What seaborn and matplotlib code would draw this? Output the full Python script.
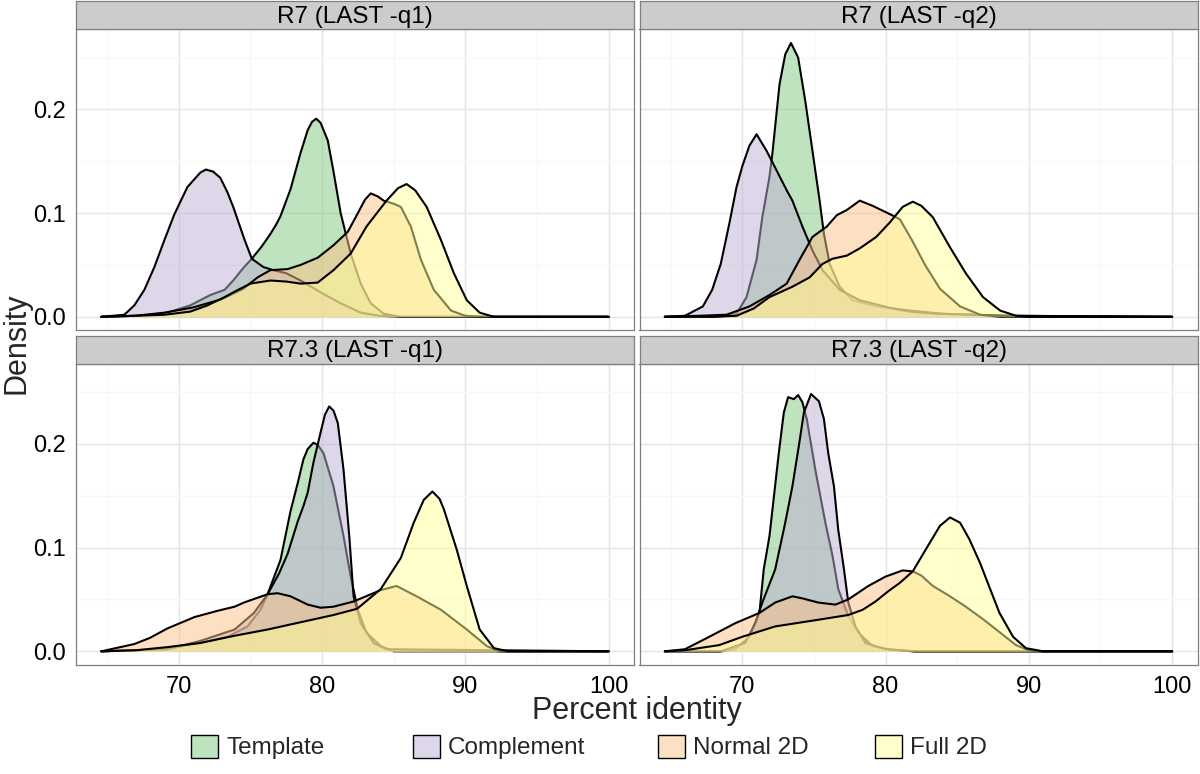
import matplotlib
matplotlib.use("Agg")
import matplotlib.pyplot as plt
from matplotlib.colors import to_rgba
from matplotlib.patches import Patch
import pandas as pd
import seaborn as sns

panels = ["R7 (LAST -q1)", "R7 (LAST -q2)", "R7.3 (LAST -q1)", "R7.3 (LAST -q2)"]
series = ["Template", "Complement", "Normal 2D", "Full 2D"]
colors = ["#7FC97F", "#BEAED4", "#FDC086", "#FFFF99"]
x_ticks = [70, 80, 90, 100]
y_ticks = [0.0, 0.1, 0.2]
y_tick_labels = ["0.0", "0.1", "0.2"]

# density curves (percent identity, density)
r7_q1_template_x = [64.6, 67.0, 68.1, 69.2, 70.8, 72.2, 73.2, 73.8, 74.5, 75.1, 75.8, 76.4, 76.8, 77.1, 77.8,
                    78.5, 79.0, 79.3, 79.6, 79.9, 80.4, 80.8, 81.3, 82.0, 82.7, 83.4, 84.3, 85.5, 100.0]
r7_q1_template_y = [0.0, 0.001, 0.002, 0.004, 0.011, 0.021, 0.026, 0.035, 0.047, 0.056, 0.068, 0.080, 0.089, 0.097,
                    0.123, 0.158, 0.180, 0.188, 0.191, 0.187, 0.170, 0.140, 0.100, 0.061, 0.032, 0.013, 0.003, 0.0, 0.0]
r7_q1_complement_x = [64.6, 66.2, 66.9, 67.6, 68.3, 69.0, 69.7, 70.6, 71.5, 71.9, 72.4, 72.9, 73.4, 73.8, 74.6,
                      75.1, 75.9, 76.6, 77.5, 78.5, 80.1, 81.3, 82.7, 84.0, 85.5, 100.0]
r7_q1_complement_y = [0.0, 0.002, 0.011, 0.026, 0.048, 0.074, 0.099, 0.125, 0.139, 0.142, 0.140, 0.134, 0.120, 0.106,
                      0.074, 0.056, 0.048, 0.045, 0.042, 0.035, 0.022, 0.013, 0.004, 0.001, 0.0, 0.0]
r7_q1_normal_x = [64.6, 67.0, 69.0, 71.0, 73.0, 74.5, 75.5, 76.4, 77.6, 78.5, 79.7, 80.8, 81.8, 82.5, 83.0, 83.4,
                  83.9, 84.3, 85.0, 85.5, 86.2, 86.9, 87.8, 89.0, 90.0, 91.0, 100.0]
r7_q1_normal_y = [0.0, 0.001, 0.004, 0.009, 0.017, 0.027, 0.038, 0.045, 0.046, 0.050, 0.057, 0.069, 0.082, 0.100,
                  0.113, 0.119, 0.116, 0.112, 0.109, 0.106, 0.087, 0.055, 0.026, 0.006, 0.001, 0.0, 0.0]
r7_q1_full_x = [64.6, 67.0, 69.0, 70.8, 72.0, 73.2, 74.0, 75.0, 76.4, 77.5, 78.5, 79.7, 80.8, 82.0, 83.1, 84.5,
                85.3, 85.9, 86.5, 87.3, 88.3, 89.2, 90.1, 91.0, 92.0, 100.0]
r7_q1_full_y = [0.0, 0.001, 0.002, 0.005, 0.011, 0.019, 0.025, 0.032, 0.035, 0.034, 0.032, 0.033, 0.045, 0.061,
                0.087, 0.112, 0.124, 0.128, 0.122, 0.106, 0.074, 0.042, 0.016, 0.004, 0.0, 0.0]

r7_q2_template_x = [64.6, 68.0, 69.0, 69.6, 70.3, 71.0, 71.4, 71.9, 72.1, 72.6, 73.0, 73.4, 73.9, 74.4, 74.9,
                    75.4, 75.7, 76.1, 76.8, 77.7, 79.4, 81.7, 84.0, 88.0, 100.0]
r7_q2_template_y = [0.0, 0.0, 0.001, 0.003, 0.019, 0.055, 0.096, 0.135, 0.157, 0.224, 0.253, 0.264, 0.250, 0.208,
                    0.160, 0.112, 0.080, 0.051, 0.029, 0.016, 0.010, 0.006, 0.003, 0.001, 0.0]
r7_q2_complement_x = [64.6, 66.0, 67.25, 67.9, 68.5, 69.1, 69.6, 70.0, 70.5, 71.0, 71.7, 72.4, 73.1, 73.5, 74.2,
                      74.9, 75.6, 76.8, 78.2, 80.5, 81.7, 83.5, 86.0, 89.0, 100.0]
r7_q2_complement_y = [0.0, 0.001, 0.010, 0.026, 0.051, 0.090, 0.125, 0.145, 0.165, 0.176, 0.160, 0.141, 0.122, 0.112,
                      0.087, 0.064, 0.045, 0.026, 0.016, 0.008, 0.005, 0.003, 0.002, 0.001, 0.0]
r7_q2_normal_x = [64.6, 67.0, 68.9, 70.5, 71.9, 73.1, 74.0, 74.9, 75.9, 76.6, 77.3, 78.2, 79.1, 80.3, 81.0, 81.8,
                  82.8, 83.8, 85.2, 86.6, 88.0, 100.0]
r7_q2_normal_y = [0.0, 0.001, 0.002, 0.010, 0.021, 0.032, 0.055, 0.077, 0.087, 0.098, 0.103, 0.112, 0.107, 0.099,
                  0.094, 0.075, 0.049, 0.027, 0.010, 0.002, 0.0, 0.0]
r7_q2_full_x = [64.6, 68.0, 69.6, 70.8, 71.9, 73.5, 74.7, 75.6, 76.3, 77.3, 78.2, 79.35, 80.3, 81.2, 81.9, 82.5,
                83.3, 84.5, 85.6, 86.8, 88.0, 89.1, 90.0, 100.0]
r7_q2_full_y = [0.0, 0.0, 0.001, 0.008, 0.019, 0.029, 0.038, 0.051, 0.056, 0.059, 0.066, 0.077, 0.091, 0.106,
                0.111, 0.107, 0.096, 0.067, 0.042, 0.019, 0.006, 0.001, 0.0, 0.0]

r73_q1_template_x = [64.6, 69.2, 71.5, 73.4, 74.8, 75.7, 76.2, 77.1, 77.8, 78.3, 78.7, 79.0, 79.4, 79.7, 80.1,
                     80.8, 81.5, 82.0, 82.5, 83.1, 84.1, 85.0, 100.0]
r73_q1_template_y = [0.0, 0.002, 0.008, 0.014, 0.024, 0.040, 0.055, 0.088, 0.135, 0.162, 0.185, 0.195, 0.201, 0.199,
                     0.191, 0.159, 0.111, 0.072, 0.040, 0.018, 0.005, 0.0, 0.0]
r73_q1_complement_x = [64.6, 69.2, 71.5, 73.9, 75.25, 76.2, 77.0, 77.6, 78.3, 78.7, 79.0, 79.4, 79.9, 80.2, 80.5,
                       80.8, 81.1, 81.5, 81.9, 82.2, 82.7, 83.6, 84.5, 100.0]
r73_q1_complement_y = [0.0, 0.002, 0.010, 0.021, 0.037, 0.055, 0.075, 0.094, 0.125, 0.140, 0.153, 0.182, 0.211,
                       0.228, 0.236, 0.232, 0.220, 0.175, 0.111, 0.053, 0.027, 0.008, 0.002, 0.0]
r73_q1_normal_x = [64.6, 66.9, 68.0, 69.2, 71.1, 72.7, 73.9, 74.55, 76.2, 76.9, 77.8, 79.0, 79.9, 80.8, 82.2, 84.1,
                   85.2, 86.6, 88.3, 90.1, 91.5, 92.4, 100.0]
r73_q1_normal_y = [0.0, 0.007, 0.013, 0.022, 0.033, 0.039, 0.043, 0.047, 0.055, 0.056, 0.053, 0.045, 0.042, 0.043,
                   0.048, 0.059, 0.063, 0.053, 0.040, 0.021, 0.005, 0.0, 0.0]
r73_q1_full_x = [64.6, 67.0, 69.2, 71.5, 73.9, 76.2, 78.5, 80.8, 82.45, 84.1, 85.5, 86.4, 87.1, 87.7, 88.2, 88.5,
                 89.4, 90.1, 91.0, 92.0, 93.0, 100.0]
r73_q1_full_y = [0.0, 0.001, 0.004, 0.008, 0.015, 0.021, 0.028, 0.035, 0.041, 0.060, 0.090, 0.124, 0.146, 0.154,
                 0.147, 0.137, 0.098, 0.063, 0.021, 0.003, 0.0, 0.0]

r73_q2_template_x = [64.6, 68.5, 69.5, 70.5, 71.2, 71.5, 71.9, 72.55, 72.9, 73.2, 73.6, 73.9, 74.2, 74.5, 75.1,
                     75.8, 76.3, 76.7, 77.4, 78.1, 79.1, 80.2, 82.0, 100.0]
r73_q2_template_y = [0.0, 0.0, 0.002, 0.014, 0.037, 0.079, 0.111, 0.191, 0.230, 0.245, 0.243, 0.247, 0.240, 0.224,
                     0.175, 0.124, 0.092, 0.060, 0.034, 0.018, 0.005, 0.002, 0.0, 0.0]
r73_q2_complement_x = [64.6, 68.5, 70.2, 70.9, 71.4, 72.3, 73.0, 73.5, 73.95, 74.3, 74.8, 75.35, 75.7, 76.0, 76.4,
                       76.7, 77.1, 77.4, 77.9, 78.6, 80.0, 82.0, 100.0]
r73_q2_complement_y = [0.0, 0.0, 0.008, 0.027, 0.047, 0.079, 0.124, 0.159, 0.198, 0.230, 0.248, 0.241, 0.224, 0.191,
                       0.159, 0.117, 0.079, 0.047, 0.024, 0.008, 0.002, 0.0, 0.0]
r73_q2_normal_x = [64.6, 66.0, 67.7, 69.5, 71.2, 72.3, 73.5, 74.2, 75.3, 76.5, 77.4, 78.8, 80.0, 81.2, 81.9, 82.5,
                   83.3, 84.5, 85.6, 86.8, 88.0, 89.1, 90.0, 91.0, 100.0]
r73_q2_normal_y = [0.0, 0.002, 0.014, 0.027, 0.037, 0.047, 0.053, 0.051, 0.047, 0.045, 0.050, 0.063, 0.072, 0.078,
                   0.077, 0.073, 0.063, 0.053, 0.043, 0.031, 0.018, 0.006, 0.001, 0.0, 0.0]
r73_q2_full_x = [64.6, 66.0, 68.4, 70.0, 72.3, 74.65, 77.4, 78.4, 79.3, 80.2, 81.0, 81.9, 82.8, 83.8, 84.5, 85.2,
                 85.85, 86.6, 87.3, 87.95, 88.9, 89.8, 91.0, 100.0]
r73_q2_full_y = [0.0, 0.001, 0.006, 0.014, 0.024, 0.029, 0.035, 0.040, 0.048, 0.058, 0.066, 0.077, 0.098, 0.121,
                 0.129, 0.124, 0.108, 0.085, 0.060, 0.037, 0.014, 0.003, 0.0, 0.0]

curves = {
    panels[0]: [(r7_q1_template_x, r7_q1_template_y), (r7_q1_complement_x, r7_q1_complement_y),
                (r7_q1_normal_x, r7_q1_normal_y), (r7_q1_full_x, r7_q1_full_y)],
    panels[1]: [(r7_q2_template_x, r7_q2_template_y), (r7_q2_complement_x, r7_q2_complement_y),
                (r7_q2_normal_x, r7_q2_normal_y), (r7_q2_full_x, r7_q2_full_y)],
    panels[2]: [(r73_q1_template_x, r73_q1_template_y), (r73_q1_complement_x, r73_q1_complement_y),
                (r73_q1_normal_x, r73_q1_normal_y), (r73_q1_full_x, r73_q1_full_y)],
    panels[3]: [(r73_q2_template_x, r73_q2_template_y), (r73_q2_complement_x, r73_q2_complement_y),
                (r73_q2_normal_x, r73_q2_normal_y), (r73_q2_full_x, r73_q2_full_y)],
}

frames = []
for panel, pairs in curves.items():
    for name, (xs, ys) in zip(series, pairs):
        frames.append(pd.DataFrame({"panel": panel, "series": name, "x": xs, "y": ys}))
df = pd.concat(frames, ignore_index=True)

sns.set_theme(style="white")
plt.rcParams["font.family"] = ["Liberation Sans", "DejaVu Sans"]

W, H = 1200, 774
fig = plt.figure(figsize=(W / 100, H / 100), dpi=100)


def box(left, top, right, bottom):
    # pixel box -> figure fraction
    return [left / W, 1 - bottom / H, (right - left) / W, (bottom - top) / H]


cols = [(76, 634), (639.5, 1197.5)]
rows = [(1, 29.3, 330.5), (336, 363.7, 665)]

for i, panel in enumerate(panels):
    r, c = divmod(i, 2)
    left, right = cols[c]
    strip_top, top, bottom = rows[r]

    ax = fig.add_axes(box(left, top, right, bottom))
    ax.set_xlim(62.83, 101.77)
    ax.set_ylim(-0.0132, 0.2772)
    ax.set_xticks(x_ticks)
    ax.set_xticks([65, 75, 85, 95], minor=True)
    ax.set_yticks(y_ticks)
    ax.set_yticks([0.05, 0.15, 0.25], minor=True)
    ax.grid(which="major", color="#E5E5E5", lw=1.0)
    ax.grid(which="minor", color="#F7F7F7", lw=0.8)
    ax.set_axisbelow(True)
    for sp in ax.spines.values():
        sp.set_color("#7F7F7F")
        sp.set_linewidth(0.9)

    ax.tick_params(which="minor", length=0)
    ax.tick_params(axis="x", which="major", length=5 if r == 1 else 0, width=1.0, color="#333333",
                   labelbottom=(r == 1), labelsize=17, labelcolor="black", pad=3)
    ax.tick_params(axis="y", which="major", length=5 if c == 0 else 0, width=1.0, color="#333333",
                   labelleft=(c == 0), labelsize=17, labelcolor="black", pad=2)
    if c == 0:
        ax.set_yticklabels(y_tick_labels)

    sub = df[df["panel"] == panel]
    for k, name in enumerate(series):
        d = sub[sub["series"] == name]
        ax.fill_between(d["x"], d["y"], 0, color=colors[k], alpha=0.5, lw=0, zorder=2 + 2 * k)
        sns.lineplot(data=d, x="x", y="y", ax=ax, color="black", lw=1.5, estimator=None,
                     sort=False, legend=False, zorder=3 + 2 * k, solid_joinstyle="round")
    ax.set_xlabel("")
    ax.set_ylabel("")

    # facet strip
    sax = fig.add_axes(box(left, strip_top, right, top))
    sax.set_facecolor("#CCCCCC")
    sax.set_xticks([])
    sax.set_yticks([])
    for sp in sax.spines.values():
        sp.set_color("#7F7F7F")
        sp.set_linewidth(0.9)
    sax.text(0.5, 0.45, panel, ha="center", va="center", fontsize=17.5, color="black", transform=sax.transAxes)

fig.text(637 / W, 1 - 711 / H, "Percent identity", ha="center", va="center", fontsize=22)
fig.text(17 / W, 1 - 343 / H, "Density", ha="center", va="center", rotation=90, fontsize=22)

# one legend entry per key, left edges taken from the reference layout
key_left = [191, 413, 658, 875]
for name, col, kx in zip(series, colors, key_left):
    handle = Patch(facecolor=to_rgba(col, 0.5), edgecolor="black", lw=1.0)
    fig.legend([handle], [name], loc="center left", bbox_to_anchor=(kx / W, 1 - 747 / H), frameon=False,
               fontsize=17.5, handlelength=1.1, handleheight=1.1, handletextpad=0.35,
               borderpad=0, borderaxespad=0)

fig.savefig("out.png", dpi=100, facecolor="white")
plt.close(fig)
